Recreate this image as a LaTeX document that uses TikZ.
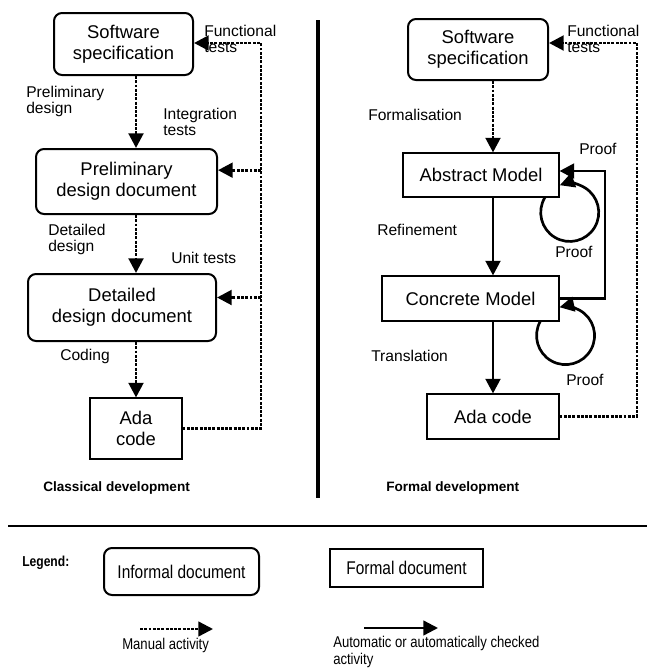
\documentclass[tikz,border=0pt]{standalone}
\usepackage{fontspec}
\setmainfont{Liberation Sans}
\newfontfamily\narrowfont[FakeStretch=0.84]{Liberation Sans}
\usetikzlibrary{arrows.meta}

\tikzset{
  informal/.style={draw, line width=1.5pt, rounded corners=6pt, align=center,
    inner sep=0pt, font=\fontsize{13.8}{15.5}\selectfont},
  formal/.style={draw, line width=0.8pt, align=center, inner sep=0pt,
    font=\fontsize{13.8}{15.5}\selectfont},
  manual/.style={line width=2.2pt, densely dotted, -{Triangle[length=11pt,width=11pt]}},
  autom/.style={line width=2.2pt, -{Triangle[length=11pt,width=11pt]}},
  lbl/.style={anchor=west, align=left, inner sep=0pt, font=\fontsize{11.7}{12}\selectfont},
  title/.style={anchor=west, inner sep=0pt, font=\fontsize{10.2}{12}\selectfont\bfseries},
}

\begin{document}
\begin{tikzpicture}[x=0.75pt, y=0.75pt]
    \useasboundingbox (0,0) rectangle (647,-668);

    % classical development
    \node[informal, minimum width=104.25pt, minimum height=46.5pt] (lspec) at (123.5,-44) {Software\\specification};
    \node[informal, minimum width=135.75pt, minimum height=48.75pt] (lpre) at (126.5,-181.5) {Preliminary\\design document};
    \node[informal, minimum width=141pt, minimum height=50.25pt] (ldet) at (122,-307.5) {Detailed\\design document};
    \node[formal, minimum width=69pt, minimum height=45.75pt] (lada) at (136,-428.5) {Ada\\code};

    \draw[manual] (lspec.south -| lada) -- (lpre.north -| lada);
    \draw[manual] (lpre.south -| lada) -- (ldet.north -| lada);
    \draw[manual] (ldet.south -| lada) -- (lada.north);

    % tests going back up
    \coordinate (lbus) at (261,-43);
    \coordinate (lpreIn) at ([yshift=8.5pt]lpre.east);
    \coordinate (ldetIn) at ([yshift=7.5pt]ldet.east);
    \draw[manual] (lada.east) -| (lbus) -- (lbus -| lspec.east);
    \draw[manual] (lbus |- lpreIn) -- (lpreIn);
    \draw[manual] (lbus |- ldetIn) -- (ldetIn);

    \node[lbl] (lfun) at (204,-39) {Functional\\tests};
    \node[lbl] (lprelbl) at (26,-101) {Preliminary\\design};
    \node[lbl] (lint) at (163,-122) {Integration\\tests};
    \node[lbl] (ldetlbl) at (48,-239) {Detailed\\design};
    \node[lbl] (lunit) at (171,-258) {Unit tests};
    \node[lbl] (lcod) at (60,-356) {Coding};
    \node[title] (lttl) at (43,-488) {Classical development};

    % separators
    \draw[line width=3pt] (318,-20) -- (318,-498);
    \draw[line width=2.2pt] (8,-526) -- (647,-526);

    % formal development
    \node[informal, minimum width=105pt, minimum height=45.75pt] (rspec) at (478,-49.5) {Software\\specification};
    \node[formal, minimum width=117pt, minimum height=33pt] (rabs) at (481,-175) {Abstract Model};
    \node[formal, minimum width=132.75pt, minimum height=33.75pt] (rcon) at (470.5,-298.5) {Concrete Model};
    \node[formal, minimum width=99pt, minimum height=33.75pt] (rada) at (493,-416.5) {Ada code};

    \draw[manual] (rspec.south -| rada) -- (rabs.north -| rada);
    \draw[autom] (rabs.south -| rada) -- (rcon.north -| rada);
    \draw[autom] (rcon.south -| rada) -- (rada.north);

    % proofs
    \coordinate (rturn) at (605,-171);
    \draw[autom] (rcon.east) -| (rturn) -- (rturn -| rabs.east);
    \draw[autom, line width=2pt] ([xshift=-11pt]rabs.south east) arc[start angle=149, end angle=470, radius=21.75pt];
    \draw[autom, line width=2pt] ([xshift=-14.5pt]rcon.south east) arc[start angle=151, end angle=462, radius=21.75pt];

    \coordinate (rbus) at (637,-43);
    \draw[manual] (rada.east) -| (rbus) -- (rbus -| rspec.east);

    \node[lbl] (rfun) at (567,-39) {Functional\\tests};
    \node[lbl] (rform) at (368,-115) {Formalisation};
    \node[lbl] (rproof1) at (579,-149) {Proof};
    \node[lbl] (rref) at (377,-230) {Refinement};
    \node[lbl] (rproof2) at (555,-252) {Proof};
    \node[lbl] (rtra) at (371,-356) {Translation};
    \node[lbl] (rproof3) at (566,-380) {Proof};
    \node[title] (rttl) at (386,-488) {Formal development};

    % legend
    \node[title, font=\fontsize{10.8}{12}\narrowfont\bfseries] (leg) at (22,-563) {Legend:};
    \node[informal, minimum width=116.25pt, minimum height=35.25pt, font=\fontsize{13.8}{15.5}\narrowfont] (linf) at (181.5,-571.5) {Informal document};
    \node[formal, minimum width=114.75pt, minimum height=28.5pt, font=\fontsize{13.8}{15.5}\narrowfont] (lfor) at (406.5,-568) {Formal document};

    \coordinate (man1) at (140,-629);
    \coordinate (man2) at (213,-629);
    \draw[manual, line width=1.8pt] (man1) -- (man2);
    \node[lbl, font=\fontsize{11.7}{12}\narrowfont] (manlbl) at (122,-645) {Manual activity};

    \coordinate (aut1) at (364,-628);
    \coordinate (aut2) at (438,-628);
    \draw[autom, line width=1.8pt] (aut1) -- (aut2);
    \node[lbl, font=\fontsize{11.7}{12.5}\narrowfont] (autlbl) at (333,-652) {Automatic or automatically checked\\activity};
\end{tikzpicture}
\end{document}
